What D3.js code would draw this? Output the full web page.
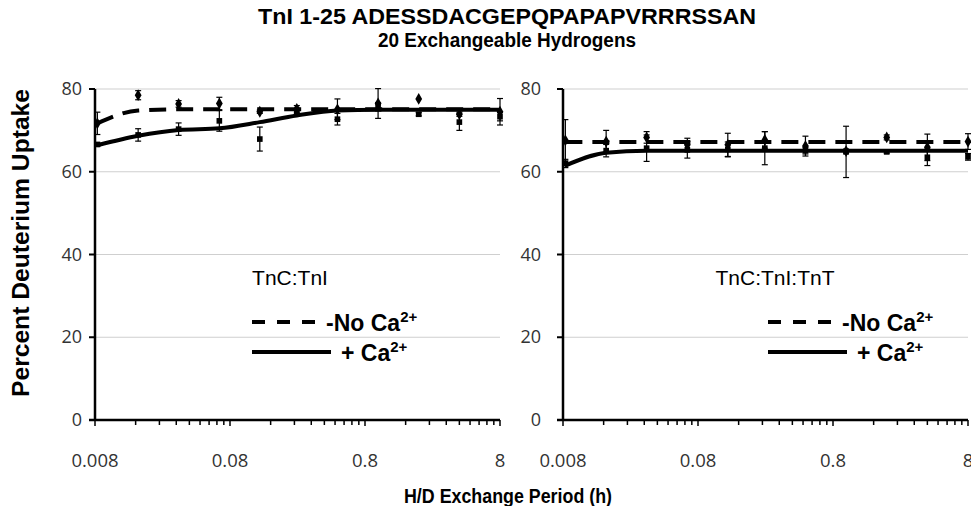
<!DOCTYPE html>
<html>
<head>
<meta charset="utf-8">
<script src="https://cdn.jsdelivr.net/npm/d3@7"></script>
<style>
  body { margin: 0; background: #fff; }
  svg { display: block; }
</style>
</head>
<body>
<div id="graph"></div>
<script>
// exchange times in hours (0.5 min ... 8 h)
var times = [0.00833, 0.0167, 0.0333, 0.0667, 0.133, 0.25, 0.5, 1, 2, 4, 8];
var xTicks = [0.008, 0.08, 0.8, 8];
var yTicks = [0, 20, 40, 60, 80];
var panelNames = ["TnC:TnI", "TnC:TnI:TnT"];
var titleLines = ["TnI 1-25 ADESSDACGEPQPAPAPVRRRSSAN", "20 Exchangeable Hydrogens"];

// TnC:TnI
var noCaFitA = [71.7, 74.8, 75.1, 75.1, 75.1, 75.1, 75.1, 75.1, 75.1, 75.1, 75.1];
var caFitA   = [66.4, 68.7, 70.1, 70.5, 72.0, 73.6, 74.8, 75.0, 75.0, 75.0, 75.0];
var noCaA    = [71.7, 78.5, 76.4, 76.5, 74.5, 75.2, 75.1, 76.5, 77.6, 73.9, 74.5];
var noCaErrA = [2.7, 1.1, 0.8, 1.5, 0.4, 0.8, 2.5, 3.6, 0, 0.5, 3.2];
var caA      = [66.6, 68.9, 70.3, 72.3, 67.9, 74.6, 72.7, 75.7, 73.9, 72.0, 73.3];
var caErrA   = [0.4, 1.5, 1.5, 2.5, 2.9, 0.6, 1.4, 1.0, 0.4, 2.0, 1.0];

// TnC:TnI:TnT
var noCaFitB = [67.2, 67.2, 67.2, 67.2, 67.2, 67.2, 67.2, 67.2, 67.2, 67.2, 67.2];
var caFitB   = [61.5, 64.6, 65.1, 65.1, 65.1, 65.1, 65.1, 65.1, 65.1, 65.1, 65.1];
var noCaB    = [67.6, 67.3, 68.3, 66.5, 66.5, 67.7, 66.2, 65.0, 68.3, 65.9, 67.3];
var noCaErrB = [5.0, 2.7, 1.4, 1.6, 2.8, 2.0, 2.4, 0.5, 0.6, 3.2, 1.9];
var caB      = [62.0, 65.1, 65.7, 65.3, 65.4, 65.7, 65.1, 64.8, 64.8, 63.5, 63.6];
var caErrB   = [1.0, 1.5, 3.2, 2.0, 1.8, 4.0, 0.8, 6.2, 0.3, 2.0, 0.8];

var width = 971, height = 506;
var plotTop = 89, plotBottom = 420, pw = 405;
var tickFont = "'Open Sans', sans-serif";
var boldFont = "'Liberation Sans', Arial, sans-serif";

var svg = d3.select("#graph").append("svg")
    .attr("width", width)
    .attr("height", height);

var y = d3.scaleLinear().domain([0, 80]).range([plotBottom, plotTop]);

// title
svg.append("text")
    .attr("x", 507)
    .attr("y", 24)
    .attr("text-anchor", "middle")
    .attr("font-family", boldFont)
    .attr("font-weight", "bold")
    .attr("font-size", 22)
    .attr("textLength", 498)
    .attr("lengthAdjust", "spacingAndGlyphs")
    .text(titleLines[0]);
svg.append("text")
    .attr("x", 507)
    .attr("y", 47)
    .attr("text-anchor", "middle")
    .attr("font-family", boldFont)
    .attr("font-weight", "bold")
    .attr("font-size", 20)
    .attr("textLength", 258)
    .attr("lengthAdjust", "spacingAndGlyphs")
    .text(titleLines[1]);

// Y axis name
svg.append("text")
    .attr("transform", "translate(29,243) rotate(-90)")
    .attr("text-anchor", "middle")
    .attr("font-family", boldFont)
    .attr("font-weight", "bold")
    .attr("font-size", 23)
    .attr("textLength", 308)
    .attr("lengthAdjust", "spacingAndGlyphs")
    .text("Percent Deuterium Uptake");

// X axis name
svg.append("text")
    .attr("x", 508)
    .attr("y", 503)
    .attr("text-anchor", "middle")
    .attr("font-family", boldFont)
    .attr("font-weight", "bold")
    .attr("font-size", 21)
    .attr("textLength", 208)
    .attr("lengthAdjust", "spacingAndGlyphs")
    .text("H/D Exchange Period (h)");

function drawPanel(x0, name, noCaFit, caFit, noCa, noCaErr, ca, caErr, labelX, legendX, yLabelGap) {
    var g = svg.append("g").attr("transform", "translate(" + x0 + ",0)");
    var x = d3.scaleLog().domain([0.008, 8]).range([0, pw]);

    // grid
    g.selectAll(".grid")
        .data(yTicks.filter(function(d) { return d > 0; }))
      .enter().append("line")
        .attr("x1", 0).attr("x2", pw)
        .attr("y1", function(d) { return y(d); })
        .attr("y2", function(d) { return y(d); })
        .attr("stroke", "#cfcfcf")
        .attr("stroke-width", 1);

    // error bars
    function errBars(vals, errs) {
        var rows = times.map(function(t, i) { return {t: t, v: vals[i], e: errs[i]}; })
            .filter(function(d) { return d.e > 0; });
        var eg = g.append("g").attr("stroke", "#000").attr("stroke-width", 1.2);
        rows.forEach(function(d) {
            var cx = x(d.t);
            eg.append("line").attr("x1", cx).attr("x2", cx)
                .attr("y1", y(d.v + d.e)).attr("y2", y(d.v - d.e));
            eg.append("line").attr("x1", cx - 3).attr("x2", cx + 3)
                .attr("y1", y(d.v + d.e)).attr("y2", y(d.v + d.e));
            eg.append("line").attr("x1", cx - 3).attr("x2", cx + 3)
                .attr("y1", y(d.v - d.e)).attr("y2", y(d.v - d.e));
        });
    }
    errBars(noCa, noCaErr);
    errBars(ca, caErr);

    // markers
    g.selectAll(".m1")
        .data(noCa)
      .enter().append("path")
        .attr("d", d3.symbol().type(d3.symbolDiamond).size(40))
        .attr("transform", function(d, i) { return "translate(" + x(times[i]) + "," + y(d) + ")"; })
        .attr("fill", "#000");
    g.selectAll(".m2")
        .data(ca)
      .enter().append("path")
        .attr("d", d3.symbol().type(d3.symbolSquare).size(32))
        .attr("transform", function(d, i) { return "translate(" + x(times[i]) + "," + y(d) + ")"; })
        .attr("fill", "#000");

    // fit lines
    var line = d3.line()
        .x(function(d, i) { return x(times[i]); })
        .y(function(d) { return y(d); })
        .curve(d3.curveMonotoneX);
    g.append("path")
        .datum(noCaFit)
        .attr("fill", "none")
        .attr("stroke", "#000")
        .attr("stroke-width", 4)
        .attr("stroke-dasharray", "17,10")
        .attr("d", line);
    g.append("path")
        .datum(caFit)
        .attr("fill", "none")
        .attr("stroke", "#000")
        .attr("stroke-width", 4)
        .attr("d", line);

    // axes
    var ag = g.append("g").attr("stroke", "#000");
    ag.append("line").attr("x1", 0).attr("x2", 0).attr("y1", y(80)).attr("y2", y(0)).attr("stroke-width", 2.5);
    ag.append("line").attr("x1", -6).attr("x2", pw).attr("y1", y(0)).attr("y2", y(0)).attr("stroke-width", 2.5);
    ag.selectAll(".yt")
        .data(yTicks)
      .enter().append("line")
        .attr("x1", -6).attr("x2", 0)
        .attr("y1", function(d) { return y(d); })
        .attr("y2", function(d) { return y(d); })
        .attr("stroke-width", 2);

    var minor = [];
    xTicks.slice(0, 3).forEach(function(m) {
        for (var k = 2; k <= 9; k++) minor.push(m * k);
    });
    ag.selectAll(".xm")
        .data(minor)
      .enter().append("line")
        .attr("x1", function(d) { return x(d); })
        .attr("x2", function(d) { return x(d); })
        .attr("y1", plotBottom).attr("y2", plotBottom + 5)
        .attr("stroke-width", 1.5);
    ag.selectAll(".xM")
        .data(xTicks)
      .enter().append("line")
        .attr("x1", function(d) { return x(d); })
        .attr("x2", function(d) { return x(d); })
        .attr("y1", plotBottom).attr("y2", plotBottom + 6)
        .attr("stroke-width", 1.5);

    // tick labels
    g.selectAll(".yl")
        .data(yTicks)
      .enter().append("text")
        .attr("x", -yLabelGap)
        .attr("y", function(d) { return y(d) + 6; })
        .attr("text-anchor", "end")
        .attr("font-family", tickFont)
        .attr("font-size", 18)
        .attr("fill", "#333")
        .text(function(d) { return d; });
    g.selectAll(".xl")
        .data(xTicks)
      .enter().append("text")
        .attr("x", function(d) { return x(d); })
        .attr("y", 467)
        .attr("text-anchor", "middle")
        .attr("font-family", tickFont)
        .attr("font-size", 18.5)
        .attr("fill", "#333")
        .text(function(d) { return d; });

    // panel label
    g.append("text")
        .attr("x", labelX)
        .attr("y", 285)
        .attr("text-anchor", "middle")
        .attr("font-family", boldFont)
        .attr("font-size", 21)
        .text(name);

    // legend
    var lg = g.append("g").attr("transform", "translate(" + legendX + ",0)");
    lg.append("line").attr("x1", 0).attr("x2", 72).attr("y1", 322).attr("y2", 322)
        .attr("stroke", "#000").attr("stroke-width", 4).attr("stroke-dasharray", "13,12");
    lg.append("line").attr("x1", 0).attr("x2", 79).attr("y1", 352).attr("y2", 352)
        .attr("stroke", "#000").attr("stroke-width", 4);
    var t1 = lg.append("text").attr("x", 74).attr("y", 331)
        .attr("font-family", boldFont).attr("font-weight", "bold").attr("font-size", 23);
    t1.append("tspan").text("-No Ca");
    t1.append("tspan").attr("dy", -9).attr("font-size", 15).text("2+");
    var t2 = lg.append("text").attr("x", 89).attr("y", 361)
        .attr("font-family", boldFont).attr("font-weight", "bold").attr("font-size", 23);
    t2.append("tspan").text("+ Ca");
    t2.append("tspan").attr("dy", -9).attr("font-size", 15).text("2+");
}

drawPanel(95, panelNames[0], noCaFitA, caFitA, noCaA, noCaErrA, caA, caErrA, 195, 157, 13);
drawPanel(563, panelNames[1], noCaFitB, caFitB, noCaB, noCaErrB, caB, caErrB, 212, 205, 22);
</script>
</body>
</html>
